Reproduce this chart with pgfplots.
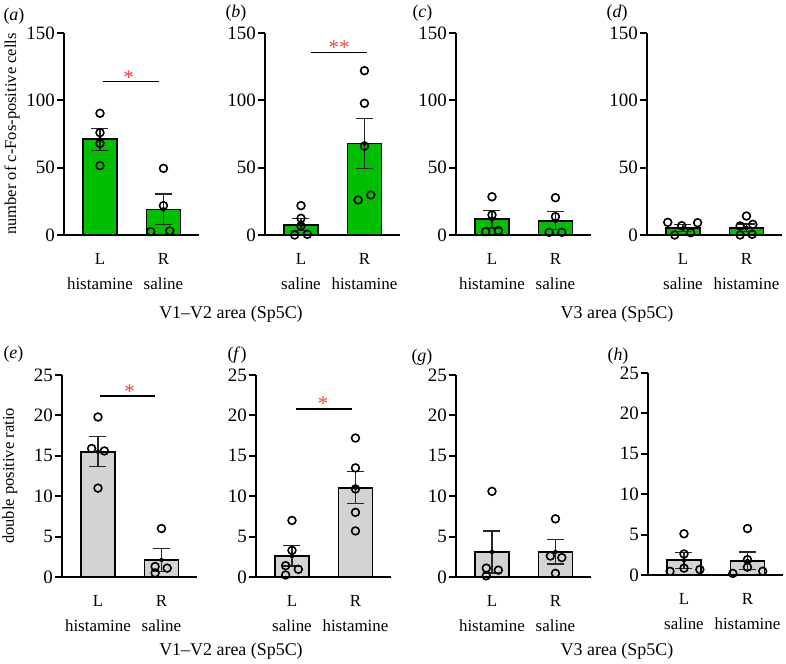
\documentclass[border=0pt]{standalone}
\usepackage{fontspec}
\setmainfont{Liberation Serif}
\usepackage{pgfplots}
\pgfplotsset{compat=1.18}
\definecolor{bargreen}{RGB}{0,190,0}
\definecolor{bargrey}{RGB}{211,211,211}
\definecolor{sigred}{RGB}{255,60,60}
\newcommand\tickf{\fontsize{19}{19}\selectfont}
\newcommand\labf{\fontsize{17}{25}\selectfont}
\newcommand\titf{\fontsize{18}{20}\selectfont}
\newcommand\starf{\fontsize{21}{21}\selectfont}
\pgfplotsset{
 panel/.style={scale only axis, width=135bp, height=202bp, xmin=-0.567, xmax=1.56, ymin=0,
   axis lines*=left, axis line style={line width=1.8bp, black},
   xtick={0,1}, x tick style={draw=none}, tick align=outside,
   y tick style={line width=1.8bp, black}, major tick length=7bp, clip=false,
   yticklabel style={font=\tickf, inner xsep=2bp},
   xticklabel style={font=\labf, align=center, yshift=-8bp}, anchor=south west},
 top/.style={panel, ymax=150, ytick={0,50,100,150}, yticklabels={0,50,100,150}},
 bot/.style={panel, ymax=25, ytick={0,5,10,15,20,25}, yticklabels={0,5,10,15,20,25}},
 bars/.style={ybar, bar width=34bp, draw=black, line width=1.8bp, fill=#1},
 errs/.style={only marks, mark=none, error bars/.cd, y dir=both, y explicit,
   error bar style={line width=1.1bp, black!85},
   error mark=-, error mark options={rotate=90, mark size=8.5bp, line width=1.2bp, black!85}},
 pts/.style={only marks, mark=o, mark size=3.9bp, mark options={line width=1.6bp, black}},
}
\begin{document}
\begin{tikzpicture}
\useasboundingbox (0,0) rectangle (786bp,664bp);
\coordinate (PA) at (64bp,429bp);
\coordinate (PB) at (265bp,429bp);
\coordinate (PC) at (456bp,429bp);
\coordinate (PD) at (647bp,429bp);
\coordinate (PE) at (62bp,87bp);
\coordinate (PF) at (256bp,87bp);
\coordinate (PG) at (456bp,87bp);
\coordinate (PH) at (648bp,89bp);
% ---------- (a)
\begin{axis}[top, at={(PA)}, xticklabels={{L\\histamine},{R\\saline}}]
\addplot[bars=bargreen] coordinates {(0,71) (1,19)};
\addplot[errs] coordinates {(0,71) +- (0,8.2) (1,19) +- (0,11.4)};
\addplot[pts] coordinates {(0,90.4) (0,76) (0,68) (0,51.5) (1,49.5) (1,21.8) (0.8,2.5) (1.1,3)};
\draw[line width=1.3bp] (axis cs:0.04,113.8) -- (axis cs:0.93,113.8);
\node[text=sigred, font=\starf] at (axis cs:0.45,117) {*};
\end{axis}
% ---------- (b)
\begin{axis}[top, at={(PB)}, xticklabels={{L\\saline},{R\\histamine}}]
\addplot[bars=bargreen] coordinates {(0,7.6) (1,68)};
\addplot[errs] coordinates {(0,7.6) +- (0,4.4) (1,68) +- (0,18.8)};
\addplot[pts] coordinates {(0,21.8) (0,12.4) (0,6.7) (-0.1,0) (0.1,0.5) (1,122) (1,97.8) (1,66) (1.1,29.7) (0.9,26)};
\draw[line width=1.3bp] (axis cs:0.16,135.7) -- (axis cs:1.04,135.7);
\node[text=sigred, font=\starf] at (axis cs:0.6,139) {**};
\end{axis}
% ---------- (c)
\begin{axis}[top, at={(PC)}, xticklabels={{L\\histamine},{R\\saline}}]
\addplot[bars=bargreen] coordinates {(0,11.6) (1,10.6)};
\addplot[errs] coordinates {(0,11.6) +- (0,6.4) (1,10.6) +- (0,6.7)};
\addplot[pts] coordinates {(0,28.4) (0,14.9) (-0.1,2.5) (0.1,3.2) (1,27.7) (1,13.6) (0.9,2) (1.1,2)};
\end{axis}
% ---------- (d)
\begin{axis}[top, at={(PD)}, xticklabels={{L\\saline},{R\\histamine}}]
\addplot[bars=bargreen] coordinates {(0,4.9) (1,5.4)};
\addplot[errs] coordinates {(0,4.9) +- (0,2.6) (1,5.4) +- (0,2.8)};
\addplot[pts] coordinates {(-0.24,9.4) (-0.02,6.9) (-0.13,0) (0.12,1.7) (0.23,9.1) (1,14.1) (1.1,7.9) (0.9,6.7) (0.9,0) (1.09,0.5)};
\end{axis}
% ---------- (e)
\begin{axis}[bot, at={(PE)}, xticklabels={{L\\histamine},{R\\saline}}]
\addplot[bars=bargrey] coordinates {(0,15.5) (1,2.1)};
\addplot[errs] coordinates {(0,15.5) +- (0,1.85) (1,2.1) +- (0,1.4)};
\addplot[pts] coordinates {(0,19.8) (-0.1,15.9) (0.1,15.6) (0,11) (1,6) (0.9,1.3) (1.09,1.1) (0.9,0.5)};
\draw[line width=1.3bp] (axis cs:0.03,22.4) -- (axis cs:0.9,22.4);
\node[text=sigred, font=\starf] at (axis cs:0.5,23.0) {*};
\end{axis}
% ---------- (f)
\begin{axis}[bot, at={(PF)}, xticklabels={{L\\saline},{R\\histamine}}]
\addplot[bars=bargrey] coordinates {(0,2.6) (1,11.05)};
\addplot[errs] coordinates {(0,2.6) +- (0,1.25) (1,11.05) +- (0,2.0)};
\addplot[pts] coordinates {(0,7) (0,3.3) (-0.1,1.4) (-0.1,0.25) (0.1,0.95) (1,17.2) (1,13.5) (1,10.9) (1,8) (1,5.7)};
\draw[line width=1.3bp] (axis cs:0.06,20.8) -- (axis cs:0.95,20.8);
\node[text=sigred, font=\starf] at (axis cs:0.49,21.4) {*};
\end{axis}
% ---------- (g)
\begin{axis}[bot, at={(PG)}, xticklabels={{L\\histamine},{R\\saline}}]
\addplot[bars=bargrey] coordinates {(0,3.1) (1,3.1)};
\addplot[errs] coordinates {(0,3.1) +- (0,2.6) (1,3.1) +- (0,1.5)};
\addplot[pts] coordinates {(0,10.6) (-0.09,1.1) (0.1,0.85) (-0.09,0.15) (1,7.2) (0.92,2.6) (1.1,2.4) (1,0.45)};
\end{axis}
% ---------- (h)
\begin{axis}[bot, at={(PH)}, xticklabels={{L\\saline},{R\\histamine}}]
\addplot[bars=bargrey] coordinates {(0,1.82) (1,1.75)};
\addplot[errs] coordinates {(0,1.82) +- (0,0.98) (1,1.75) +- (0,1.1)};
\addplot[pts] coordinates {(0,5.1) (0,2.6) (0,0.85) (-0.22,0.46) (0.25,0.67) (1,5.75) (1,1.9) (1,0.97) (0.77,0.2) (1.24,0.46)};
\end{axis}
% ---------- labels
\node[font=\titf, anchor=west] at (0bp,648bp) {(\textit{a})};
\node[font=\titf, anchor=west] at (222bp,651bp) {(\textit{b})};
\node[font=\titf, anchor=west] at (409bp,651bp) {(\textit{c})};
\node[font=\titf, anchor=west] at (603bp,651bp) {(\textit{d})};
\node[font=\titf, anchor=west] at (0bp,310bp) {(\textit{e})};
\node[font=\titf, anchor=west] at (224bp,309bp) {(\textit{f})};
\node[font=\titf, anchor=west] at (408bp,307bp) {(\textit{g})};
\node[font=\titf, anchor=west] at (604bp,308bp) {(\textit{h})};
\node[font=\fontsize{16.6}{18}\selectfont, rotate=90] at (12bp,530bp) {number of c-Fos-positive cells};
\node[font=\fontsize{16.6}{18}\selectfont, rotate=90] at (10bp,188bp) {double positive ratio};
\node[font=\titf] at (231bp,350bp) {V1–V2 area (Sp5C)};
\node[font=\titf] at (617bp,350bp) {V3 area (Sp5C)};
\node[font=\titf] at (231bp,13bp) {V1–V2 area (Sp5C)};
\node[font=\titf] at (617bp,13bp) {V3 area (Sp5C)};
\end{tikzpicture}
\end{document}
